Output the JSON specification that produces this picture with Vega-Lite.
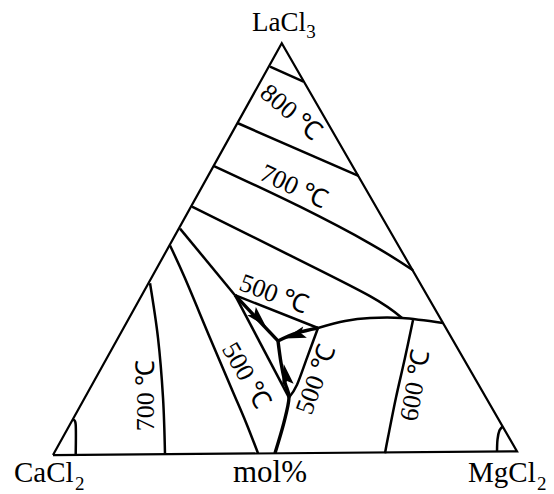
{
  "$schema": "https://vega.github.io/schema/vega-lite/v6.json",
  "width": 554,
  "height": 494,
  "padding": 0,
  "autosize": {"type": "fit", "contains": "padding"},
  "background": "white",
  "config": {"view": {"stroke": null}},
  "datasets": {
    "frame": [
      {"i": 0, "x": 0, "y": -0.4},
      {"i": 1, "x": 49.3, "y": 88.9},
      {"i": 2, "x": 100, "y": 0.4},
      {"i": 3, "x": 0, "y": -0.4}
    ],
    "boundaries": [
      {"id": "A", "i": 0, "x": 46.77, "y": 83.84},
      {"id": "A", "i": 1, "x": 53.99, "y": 80.6},
      {"id": "B", "i": 0, "x": 39.87, "y": 71.55},
      {"id": "B", "i": 1, "x": 65.84, "y": 60.13},
      {"id": "C", "i": 0, "x": 34.7, "y": 62.28},
      {"id": "C", "i": 1, "x": 53.23, "y": 53.45},
      {"id": "C", "i": 2, "x": 68.32, "y": 45.47},
      {"id": "C", "i": 3, "x": 77.59, "y": 39.66},
      {"id": "D", "i": 0, "x": 29.96, "y": 53.45},
      {"id": "D", "i": 1, "x": 51.08, "y": 42.89},
      {"id": "D", "i": 2, "x": 68.32, "y": 34.05},
      {"id": "D", "i": 3, "x": 75.22, "y": 29.31},
      {"id": "E", "i": 0, "x": 57.11, "y": 27.16},
      {"id": "E", "i": 1, "x": 62.93, "y": 28.66},
      {"id": "E", "i": 2, "x": 68.32, "y": 29.31},
      {"id": "E", "i": 3, "x": 75.22, "y": 29.31},
      {"id": "E", "i": 4, "x": 84.05, "y": 28.23},
      {"id": "F", "i": 0, "x": 27.37, "y": 48.71},
      {"id": "F", "i": 1, "x": 39.22, "y": 34.27},
      {"id": "G", "i": 0, "x": 39.22, "y": 34.27},
      {"id": "G", "i": 1, "x": 57.11, "y": 27.16},
      {"id": "H", "i": 0, "x": 39.22, "y": 34.27},
      {"id": "H", "i": 1, "x": 50.86, "y": 12.07},
      {"id": "I", "i": 0, "x": 57.11, "y": 27.16},
      {"id": "I", "i": 1, "x": 54.74, "y": 20.69},
      {"id": "I", "i": 2, "x": 52.59, "y": 14.87},
      {"id": "I", "i": 3, "x": 50.86, "y": 12.07},
      {"id": "M", "i": 0, "x": 25.22, "y": 45.04},
      {"id": "M", "i": 1, "x": 28.45, "y": 37.93},
      {"id": "M", "i": 2, "x": 33.84, "y": 25.0},
      {"id": "M", "i": 3, "x": 38.58, "y": 13.79},
      {"id": "M", "i": 4, "x": 41.59, "y": 6.68},
      {"id": "M", "i": 5, "x": 44.18, "y": 0},
      {"id": "N", "i": 0, "x": 20.91, "y": 36.85},
      {"id": "N", "i": 1, "x": 22.63, "y": 25.0},
      {"id": "N", "i": 2, "x": 23.71, "y": 12.07},
      {"id": "N", "i": 3, "x": 24.14, "y": -0.2},
      {"id": "O", "i": 0, "x": 77.59, "y": 28.88},
      {"id": "O", "i": 1, "x": 75.86, "y": 20.69},
      {"id": "O", "i": 2, "x": 73.92, "y": 12.07},
      {"id": "O", "i": 3, "x": 72.2, "y": 3.45},
      {"id": "O", "i": 4, "x": 71.55, "y": 0},
      {"id": "P", "i": 0, "x": 4.31, "y": 7.11},
      {"id": "P", "i": 1, "x": 4.89, "y": 6.25},
      {"id": "P", "i": 2, "x": 4.89, "y": -0.43},
      {"id": "Q", "i": 0, "x": 96.98, "y": 5.82},
      {"id": "Q", "i": 1, "x": 96.23, "y": 4.96},
      {"id": "Q", "i": 2, "x": 95.8, "y": 3.02},
      {"id": "Q", "i": 3, "x": 95.69, "y": 0.43}
    ],
    "valleys": [
      {"id": "J", "i": 0, "x": 39.22, "y": 34.27},
      {"id": "J", "i": 1, "x": 48.49, "y": 24.35},
      {"id": "K", "i": 0, "x": 48.49, "y": 24.35},
      {"id": "K", "i": 1, "x": 52.59, "y": 26.08},
      {"id": "K", "i": 2, "x": 57.11, "y": 27.16},
      {"id": "L", "i": 0, "x": 48.49, "y": 24.35},
      {"id": "L", "i": 1, "x": 49.14, "y": 19.61},
      {"id": "L", "i": 2, "x": 50.0, "y": 15.3},
      {"id": "L", "i": 3, "x": 50.86, "y": 12.07},
      {"id": "L", "i": 4, "x": 49.78, "y": 6.68},
      {"id": "L", "i": 5, "x": 47.84, "y": 0}
    ]
  },
  "encoding": {
    "x": {"field": "x", "type": "quantitative", "axis": null,
          "scale": {"domain": [-11.42, 107.97], "nice": false, "zero": false}},
    "y": {"field": "y", "type": "quantitative", "axis": null,
          "scale": {"domain": [-8.19, 98.28], "nice": false, "zero": false}}
  },
  "layer": [
    {
      "data": {"name": "frame"},
      "mark": {"type": "line", "color": "black", "strokeWidth": 2.2, "strokeJoin": "miter"},
      "encoding": {"order": {"field": "i", "type": "quantitative"}}
    },
    {
      "data": {"name": "boundaries"},
      "mark": {"type": "line", "color": "black", "strokeWidth": 2.5, "interpolate": "cardinal"},
      "encoding": {
        "detail": {"field": "id", "type": "nominal"},
        "order": {"field": "i", "type": "quantitative"}
      }
    },
    {
      "data": {"name": "valleys"},
      "mark": {"type": "line", "color": "black", "strokeWidth": 3.4, "interpolate": "cardinal"},
      "encoding": {
        "detail": {"field": "id", "type": "nominal"},
        "order": {"field": "i", "type": "quantitative"}
      }
    },
    {
      "data": {"values": [{"x": 44.18, "y": 29.31}]},
      "mark": {"type": "point", "filled": true, "color": "black", "opacity": 1,
               "shape": "M0,-1L0.5,0.8L0,0.45L-0.5,0.8Z", "size": 560, "angle": 137}
    },
    {
      "data": {"values": [{"x": 52.37, "y": 25.65}]},
      "mark": {"type": "point", "filled": true, "color": "black", "opacity": 1,
               "shape": "M0,-1L0.5,0.8L0,0.45L-0.5,0.8Z", "size": 560, "angle": 252}
    },
    {
      "data": {"values": [{"x": 50.22, "y": 16.81}]},
      "mark": {"type": "point", "filled": true, "color": "black", "opacity": 1,
               "shape": "M0,-1L0.5,0.8L0,0.45L-0.5,0.8Z", "size": 560, "angle": 349}
    },
    {
      "data": {"values": [{"x": 51.29, "y": 73.92, "t": "800 ℃"}]},
      "mark": {"type": "text", "font": "Liberation Serif", "fontSize": 26, "angle": 40,
               "align": "center", "baseline": "middle", "color": "black"},
      "encoding": {"text": {"field": "t"}}
    },
    {
      "data": {"values": [{"x": 51.94, "y": 57.76, "t": "700 ℃"}]},
      "mark": {"type": "text", "font": "Liberation Serif", "fontSize": 26, "angle": 25,
               "align": "center", "baseline": "middle", "color": "black"},
      "encoding": {"text": {"field": "t"}}
    },
    {
      "data": {"values": [{"x": 47.63, "y": 34.48, "t": "500 ℃"}]},
      "mark": {"type": "text", "font": "Liberation Serif", "fontSize": 26, "angle": 20,
               "align": "center", "baseline": "middle", "color": "black"},
      "encoding": {"text": {"field": "t"}}
    },
    {
      "data": {"values": [{"x": 41.59, "y": 16.81, "t": "500 ℃"}]},
      "mark": {"type": "text", "font": "Liberation Serif", "fontSize": 26, "angle": 60,
               "align": "center", "baseline": "middle", "color": "black"},
      "encoding": {"text": {"field": "t"}}
    },
    {
      "data": {"values": [{"x": 56.68, "y": 15.95, "t": "500 ℃"}]},
      "mark": {"type": "text", "font": "Liberation Serif", "fontSize": 26, "angle": -70,
               "align": "center", "baseline": "middle", "color": "black"},
      "encoding": {"text": {"field": "t"}}
    },
    {
      "data": {"values": [{"x": 78.02, "y": 14.66, "t": "600 ℃"}]},
      "mark": {"type": "text", "font": "Liberation Serif", "fontSize": 26, "angle": -80,
               "align": "center", "baseline": "middle", "color": "black"},
      "encoding": {"text": {"field": "t"}}
    },
    {
      "data": {"values": [{"x": 20.04, "y": 12.5, "t": "700 ℃"}]},
      "mark": {"type": "text", "font": "Liberation Serif", "fontSize": 26, "angle": -90,
               "align": "center", "baseline": "middle", "color": "black"},
      "encoding": {"text": {"field": "t"}}
    },
    {
      "data": {"values": [
        {"x": 42.89, "y": 91.59, "t": "LaCl"}
      ]},
      "mark": {"type": "text", "font": "Liberation Serif", "fontSize": 27,
               "align": "left", "baseline": "alphabetic", "color": "black"},
      "encoding": {"text": {"field": "t"}}
    },
    {
      "data": {"values": [
        {"x": -8.41, "y": -6.25, "t": "CaCl"},
        {"x": 89.44, "y": -6.25, "t": "MgCl"}
      ]},
      "mark": {"type": "text", "font": "Liberation Serif", "fontSize": 29,
               "align": "left", "baseline": "alphabetic", "color": "black"},
      "encoding": {"text": {"field": "t"}}
    },
    {
      "data": {"values": [
        {"x": 46.77, "y": -6.25, "t": "mol%"}
      ]},
      "mark": {"type": "text", "font": "Liberation Serif", "fontSize": 31,
               "align": "center", "baseline": "alphabetic", "color": "black"},
      "encoding": {"text": {"field": "t"}}
    },
    {
      "data": {"values": [
        {"x": 54.6, "y": 90.09, "t": "3"},
        {"x": 4.74, "y": -7.97, "t": "2"},
        {"x": 104.31, "y": -7.97, "t": "2"}
      ]},
      "mark": {"type": "text", "font": "Liberation Serif", "fontSize": 19,
               "align": "left", "baseline": "alphabetic", "color": "black"},
      "encoding": {"text": {"field": "t"}}
    }
  ]
}
